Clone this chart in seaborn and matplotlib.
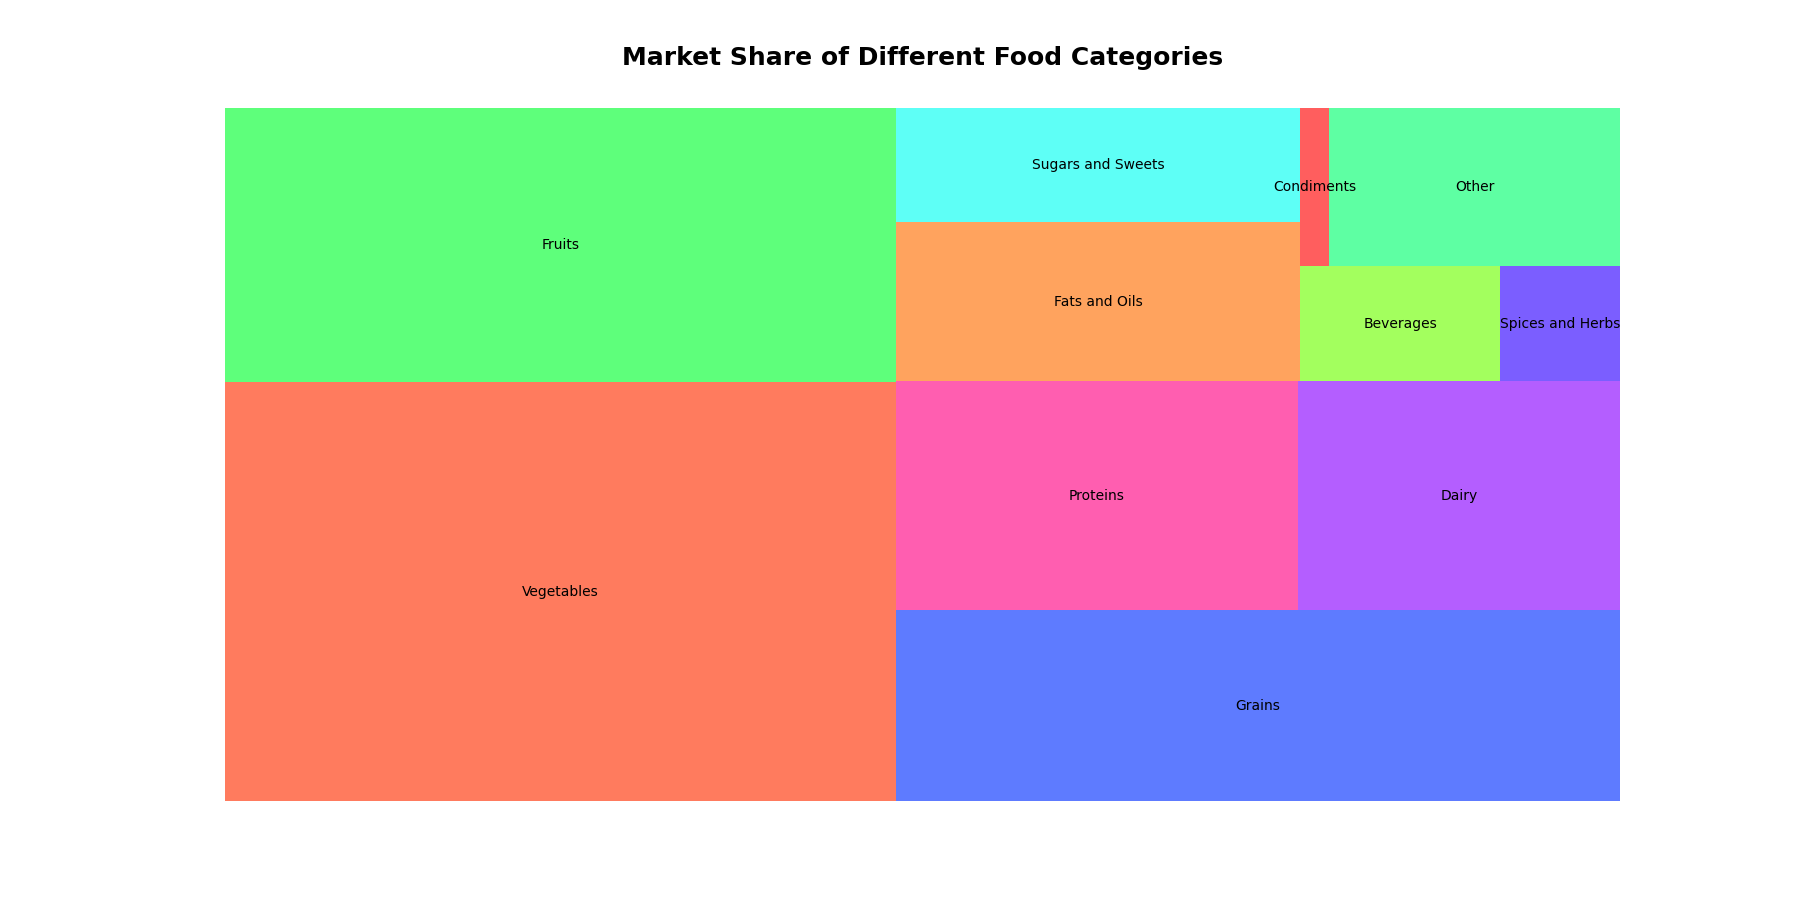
import matplotlib
matplotlib.use('Agg')
import matplotlib.pyplot as plt
import seaborn as sns

# market share values (data order, not sorted)
categories = ['Vegetables', 'Fruits', 'Grains', 'Proteins', 'Dairy', 'Fats and Oils',
              'Sugars and Sweets', 'Beverages', 'Spices and Herbs', 'Condiments', 'Other']
shares = [30.5, 20, 15, 10, 8, 7, 5, 2.5, 1.5, 0.5, 5]
colors = ['#FF7B5E', '#5EFF7B', '#5E7BFF', '#FF5EB0', '#B45EFF', '#FFA35E',
          '#5EFFF6', '#A3FF5E', '#7B5EFF', '#FF5E5E', '#5EFFA3']


# squarified treemap layout (same steps as the squarify package)
def layout_row(sizes, x, y, dx, dy):
    width = sum(sizes) / dy
    rects = []
    for s in sizes:
        rects.append((x, y, width, s / width))
        y += s / width
    return rects


def layout_col(sizes, x, y, dx, dy):
    height = sum(sizes) / dx
    rects = []
    for s in sizes:
        rects.append((x, y, s / height, height))
        x += s / height
    return rects


def layout(sizes, x, y, dx, dy):
    if dx >= dy:
        return layout_row(sizes, x, y, dx, dy)
    return layout_col(sizes, x, y, dx, dy)


def leftover(sizes, x, y, dx, dy):
    if dx >= dy:
        w = sum(sizes) / dy
        return x + w, y, dx - w, dy
    h = sum(sizes) / dx
    return x, y + h, dx, dy - h


def worst_ratio(sizes, x, y, dx, dy):
    return max(max(r[2] / r[3], r[3] / r[2]) for r in layout(sizes, x, y, dx, dy))


def squarify(sizes, x, y, dx, dy):
    if len(sizes) == 0:
        return []
    if len(sizes) == 1:
        return layout(sizes, x, y, dx, dy)
    i = 1
    while i < len(sizes) and worst_ratio(sizes[:i], x, y, dx, dy) >= worst_ratio(sizes[:i + 1], x, y, dx, dy):
        i += 1
    cur, rest = sizes[:i], sizes[i:]
    lx, ly, ldx, ldy = leftover(cur, x, y, dx, dy)
    return layout(cur, x, y, dx, dy) + squarify(rest, lx, ly, ldx, ldy)


norm_x, norm_y = 100, 100
total = sum(shares)
sizes = [v * norm_x * norm_y / total for v in shares]
rects = squarify(sizes, 0, 0, norm_x, norm_y)

sns.set_style('white')
fig, ax = plt.subplots(figsize=(18, 9), dpi=100)

for (x, y, dx, dy), c, lab in zip(rects, colors, categories):
    ax.bar(x, dy, width=dx, bottom=y, color=c, align='edge', linewidth=0)
    ax.text(x + dx / 2, y + dy / 2, lab, ha='center', va='center', fontsize=10, color='black')

ax.set_xlim(0, norm_x)
ax.set_ylim(0, norm_y)
ax.axis('off')
ax.set_title('Market Share of Different Food Categories', fontsize=18, fontweight='bold',
             color='black', pad=31)

plt.savefig('out.png', dpi=100)
